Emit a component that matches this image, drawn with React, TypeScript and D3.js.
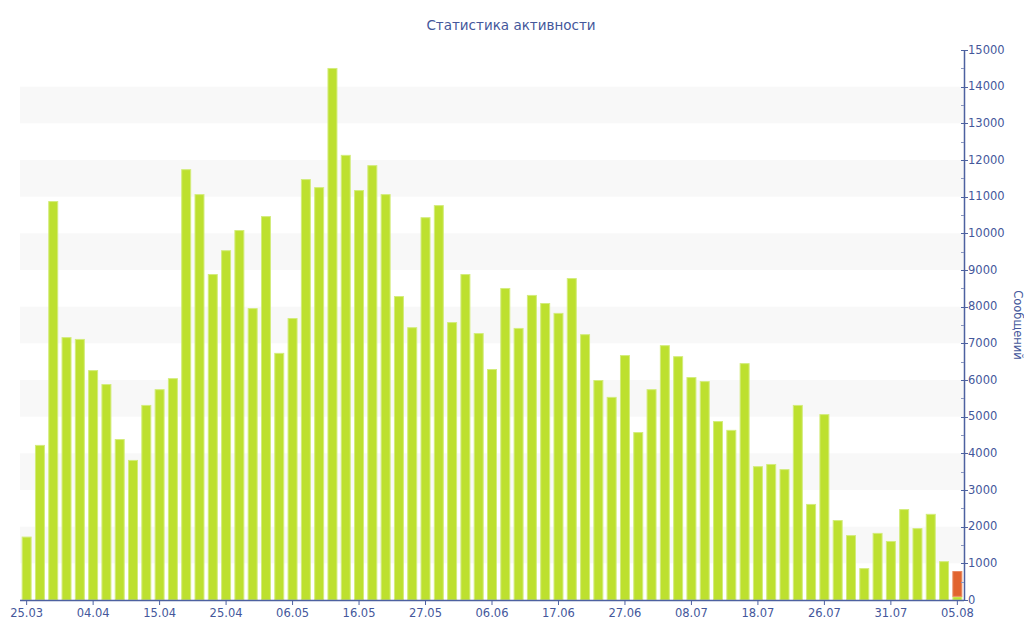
import React from "react";
import * as d3 from "d3";

const categories = [
  "25.03","27.03","29.03","31.03","02.04",
  "04.04","06.04","08.04","10.04","13.04",
  "15.04","17.04","19.04","21.04","23.04",
  "25.04","27.04","29.04","01.05","04.05",
  "06.05","08.05","10.05","12.05","14.05",
  "16.05","18.05","20.05","22.05","25.05",
  "27.05","29.05","31.05","02.06","04.06",
  "06.06","08.06","10.06","12.06","15.06",
  "17.06","19.06","21.06","23.06","25.06",
  "27.06","29.06","01.07","03.07","06.07",
  "08.07","10.07","12.07","14.07","16.07",
  "18.07","20.07","22.07","23.07","24.07",
  "26.07","27.07","28.07","29.07","30.07",
  "31.07","01.08","02.08","03.08","04.08",
  "05.08",
];

const messages = [
  1730, 4230, 10880, 7170, 7120,
  6270, 5890, 4390, 3820, 5320,
  5750, 6050, 11750, 11070, 8890,
  9540, 10090, 7960, 10470, 6740,
  7690, 11480, 11260, 14510, 12140,
  11180, 11860, 11070, 8290, 7440,
  10440, 10770, 7580, 8890, 7280,
  6300, 8510, 7420, 8320, 8100,
  7830, 8780, 7250, 6000, 5540,
  6680, 4580, 5750, 6950, 6650,
  6080, 5970, 4880, 4640, 6460,
  3650, 3710, 3570, 5320, 2620,
  5070, 2180, 1770, 870, 1830,
  1610, 2480, 1960, 2350, 1060,
  100,
];

const current = [
  0,0,0,0,0,0,0,0,0,0,0,0,0,0,0,0,0,0,0,0,0,0,0,0,0,0,0,0,0,0,0,0,0,0,0,
  0,0,0,0,0,0,0,0,0,0,0,0,0,0,0,0,0,0,0,0,0,0,0,0,0,0,0,0,0,0,0,0,0,0,0,
  690,
];

const tickLabels = [
  "25.03","04.04","15.04","25.04","06.05","16.05","27.05","06.06",
  "17.06","27.06","08.07","18.07","26.07","31.07","05.08",
];

const yTicks = [0,1000,2000,3000,4000,5000,6000,7000,8000,9000,10000,11000,12000,13000,14000,15000];

const title = "Статистика активности";
const yTitle = "Сообщений";

const W = 1024;
const H = 640;
const left = 20;
const right = 964;
const top = 50;
const bottom = 600;

const textColor = "#44579b";
const axisColor = "#4d61a0";
const green = "#bde02f";
const greenStroke = "#d3ec7c";
const orange = "#e1642f";
const font = "'DejaVu Sans', Verdana, sans-serif";

export default function App() {
  const x = d3.scaleBand<string>().domain(categories).range([left, right]).paddingInner(0.25).paddingOuter(0.125);
  const y = d3.scaleLinear().domain([0, 15000]).range([bottom, top]);
  const bw = x.bandwidth();

  const bands: number[] = [];
  for (let i = 1; i < yTicks.length - 1; i += 2) bands.push(yTicks[i]);

  const minor = d3.range(500, 15000, 1000);

  return (
    <svg width={W} height={H} style={{ position: "absolute", left: 0, top: 0, display: "block" }} fontFamily={font}>
      <rect x={0} y={0} width={W} height={H} fill="#fff" />
      {bands.map((v) => (
        <rect key={"b" + v} x={left} width={right - left} y={y(v + 1000)} height={y(v) - y(v + 1000)} fill="#f8f8f8" />
      ))}
      {categories.map((c, i) => (
        <g key={c}>
          <rect x={x(c)! + 0.5} y={y(messages[i]) + 0.5} width={bw - 1} height={Math.max(0, y(0) - y(messages[i]) - 0.5)} fill={green} stroke={greenStroke} strokeWidth={1} />
          {current[i] > 0 && (
            <rect x={x(c)! + 0.5} y={y(messages[i] + current[i]) + 0.5} width={bw - 1} height={y(messages[i]) - y(messages[i] + current[i]) - 0.5} fill={orange} stroke="#ea8a62" strokeWidth={1} />
          )}
        </g>
      ))}
      <line x1={left} x2={right} y1={bottom + 0.5} y2={bottom + 0.5} stroke={axisColor} strokeWidth={1.5} />
      {tickLabels.map((t) => {
        const cx = x(t)! + bw / 2;
        return (
          <g key={"t" + t}>
            <line x1={cx} x2={cx} y1={bottom} y2={bottom + 5} stroke={axisColor} />
            <text x={cx} y={bottom + 16.5} textAnchor="middle" fontSize={11.5} fill={textColor}>{t}</text>
          </g>
        );
      })}
      <line x1={right + 0.5} x2={right + 0.5} y1={top} y2={bottom} stroke={axisColor} strokeWidth={1.5} />
      {minor.map((v) => (
        <line key={"m" + v} x1={right - 3} x2={right} y1={Math.round(y(v)) + 0.5} y2={Math.round(y(v)) + 0.5} stroke="#8a96c0" />
      ))}
      {yTicks.map((v) => (
        <g key={"y" + v}>
          <line x1={right - 3} x2={right + 4} y1={Math.round(y(v)) + 0.5} y2={Math.round(y(v)) + 0.5} stroke={axisColor} />
          <text x={right + 4} y={y(v) + 3.5} fontSize={11.5} fill={textColor}>{v}</text>
        </g>
      ))}
      <text x={1014} y={325} transform="rotate(90 1014 325)" textAnchor="middle" fontSize={11.5} fill={textColor}>{yTitle}</text>
      <text x={511} y={30} textAnchor="middle" fontSize={13.5} fill={textColor}>{title}</text>
    </svg>
  );
}
